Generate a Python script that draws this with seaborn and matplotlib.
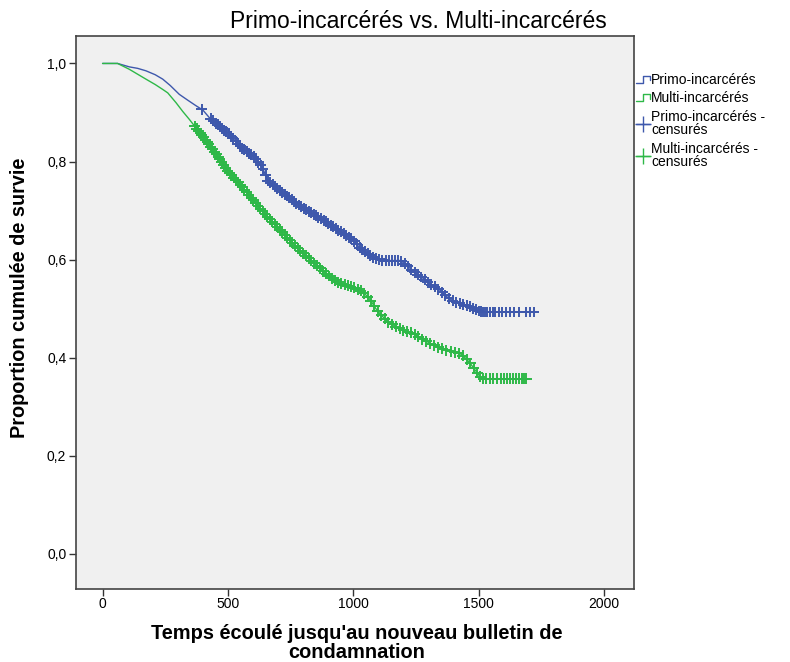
import numpy as np
import pandas as pd
import matplotlib
matplotlib.use("Agg")
import matplotlib.pyplot as plt
from matplotlib.lines import Line2D
from matplotlib.legend_handler import HandlerBase
import seaborn as sns

# survival curves (time in days, cumulative survival)
primo_t = [0, 60, 107, 140, 173, 210, 240, 270, 306, 340, 372, 400, 425, 460, 505, 552,
           598, 618, 640, 658, 690, 724, 770, 817, 870, 923, 965, 1002, 1029, 1056, 1090,
           1120, 1188, 1210, 1241, 1268, 1300, 1347, 1374, 1400, 1427, 1470, 1500, 1510, 1720]
primo_s = [1.0, 1.0, 0.993, 0.99, 0.985, 0.977, 0.968, 0.955, 0.937, 0.925, 0.914, 0.905,
           0.890, 0.875, 0.856, 0.829, 0.812, 0.802, 0.785, 0.761, 0.748, 0.734, 0.716, 0.700,
           0.684, 0.666, 0.652, 0.639, 0.622, 0.612, 0.602, 0.598, 0.598, 0.590, 0.575, 0.566,
           0.553, 0.537, 0.524, 0.515, 0.510, 0.503, 0.495, 0.493, 0.493]

multi_t = [0, 60, 107, 140, 173, 210, 240, 260, 293, 320, 346, 372, 400, 439, 470, 505, 552,
           600, 640, 684, 730, 770, 817, 850, 883, 920, 950, 990, 1029, 1050, 1069, 1090,
           1109, 1140, 1175, 1210, 1241, 1275, 1307, 1340, 1374, 1400, 1427, 1450, 1467,
           1490, 1507, 1515, 1690]
multi_s = [1.0, 1.0, 0.988, 0.978, 0.968, 0.957, 0.947, 0.94, 0.920, 0.902, 0.886, 0.869,
           0.851, 0.825, 0.803, 0.778, 0.751, 0.722, 0.697, 0.673, 0.648, 0.627, 0.605, 0.590,
           0.575, 0.560, 0.551, 0.545, 0.537, 0.528, 0.517, 0.500, 0.488, 0.472, 0.462, 0.453,
           0.449, 0.438, 0.429, 0.421, 0.415, 0.411, 0.408, 0.398, 0.388, 0.372, 0.360, 0.357,
           0.357]

# censored observation times
primo_cens = [395, 432, 441, 452, 460, 468, 477, 486, 494, 503, 512, 520, 531, 540, 549, 557,
              566, 575, 585, 594, 603, 611, 622, 631, 640, 650, 659, 668, 678, 687, 697, 706,
              715, 726, 735, 744, 755, 764, 773, 784, 793, 803, 812, 823, 832, 842, 852, 861,
              871, 882, 891, 901, 911, 921, 931, 941, 952, 962, 972, 983, 993, 1004, 1014,
              1025, 1035, 1046, 1057, 1068, 1080, 1092, 1104, 1116, 1130, 1142, 1155, 1168,
              1180, 1192, 1205, 1218, 1232, 1245, 1258, 1272, 1285, 1298, 1312, 1326, 1340,
              1355, 1368, 1382, 1396, 1410, 1424, 1438, 1452, 1466, 1478, 1490, 1500, 1508,
              1516, 1526, 1535, 1546, 1556, 1566, 1580, 1594, 1608, 1625, 1640, 1662, 1690,
              1704, 1720]
multi_cens = [368, 375, 382, 389, 396, 403, 410, 417, 424, 431, 438, 446, 453, 461, 468, 476,
              484, 492, 500, 508, 516, 524, 532, 541, 549, 558, 566, 575, 584, 593, 602, 611,
              620, 629, 638, 648, 657, 667, 676, 686, 696, 706, 716, 726, 736, 746, 757, 767,
              778, 789, 800, 811, 822, 833, 845, 856, 868, 880, 892, 904, 916, 928, 941, 953,
              966, 978, 991, 1004, 1017, 1030, 1043, 1057, 1070, 1084, 1098, 1112, 1126, 1140,
              1155, 1170, 1185, 1200, 1215, 1230, 1245, 1260, 1276, 1292, 1308, 1324, 1340,
              1356, 1372, 1388, 1404, 1420, 1436, 1452, 1466, 1480, 1494, 1506, 1518, 1530,
              1545, 1558, 1572, 1588, 1600, 1612, 1624, 1638, 1650, 1660, 1672, 1682, 1690]

groups = ["Primo-incarcérés", "Multi-incarcérés"]
colors = {"Primo-incarcérés": "#3E58AC", "Multi-incarcérés": "#2EB848"}

curves = pd.concat([
    pd.DataFrame({"t": primo_t, "s": primo_s, "g": groups[0]}),
    pd.DataFrame({"t": multi_t, "s": multi_s, "g": groups[1]}),
])
# censor marks sit on their curve
cens = pd.concat([
    pd.DataFrame({"t": primo_cens, "s": np.interp(primo_cens, primo_t, primo_s), "g": groups[0]}),
    pd.DataFrame({"t": multi_cens, "s": np.interp(multi_cens, multi_t, multi_s), "g": groups[1]}),
])

sns.set_style("white")
plt.rcParams["font.family"] = ["Liberation Sans", "DejaVu Sans"]
plt.rcParams["text.color"] = "black"
plt.rcParams["xtick.color"] = "black"
plt.rcParams["ytick.color"] = "black"

fig = plt.figure(figsize=(7.9, 6.62), dpi=100)
ax = fig.add_axes([76 / 790, 73 / 662, 558 / 790, 553 / 662])
ax.set_facecolor("#F0F0F0")

sns.lineplot(data=curves, x="t", y="s", hue="g", palette=colors, estimator=None,
             sort=False, lw=1.0, legend=False, ax=ax, zorder=2)
sns.scatterplot(data=cens, x="t", y="s", hue="g", palette=colors, marker="+", s=62,
                linewidth=1.4, legend=False, ax=ax, zorder=3)

ax.set_xlim(-106, 2120)
ax.set_ylim(-0.072, 1.056)
ax.set_xticks([0, 500, 1000, 1500, 2000])
ax.set_yticks([0, 0.2, 0.4, 0.6, 0.8, 1.0])
ax.set_yticklabels(["0,0", "0,2", "0,4", "0,6", "0,8", "1,0"])
ax.tick_params(direction="out", length=5, width=1, color="#333333", labelsize=10,
               left=True, bottom=True)
ax.tick_params(axis="x", pad=1)
ax.tick_params(axis="y", pad=2)
ax.set_xlabel("")
ax.set_ylabel("")
for sp in ax.spines.values():
    sp.set_color("#444444")
    sp.set_linewidth(1.2)

fig.text(418 / 790, 1 - 28.5 / 662, "Primo-incarcérés vs. Multi-incarcérés",
         ha="center", va="baseline", fontsize=16.5)
fig.text(20 / 790, 1 - 298 / 662, "Proportion cumulée de survie", rotation=90,
         ha="center", va="center", fontsize=14.3, fontweight="bold")
fig.text(357 / 790, 1 - 643 / 662, "Temps écoulé jusqu'au nouveau bulletin de\ncondamnation",
         ha="center", va="center", fontsize=14.4, fontweight="bold", linespacing=1.05)


class StepHandler(HandlerBase):
    def create_artists(self, legend, orig_handle, xdescent, ydescent, width, height,
                       fontsize, trans):
        x0, y0 = -xdescent, -ydescent
        xs = [x0, x0 + 0.5 * width, x0 + 0.5 * width, x0 + width, x0 + width]
        ys = [y0 + 0.1 * height, y0 + 0.1 * height, y0 + 0.85 * height,
              y0 + 0.85 * height, y0 + 0.4 * height]
        ln = Line2D(xs, ys, color=orig_handle.get_color(), lw=1.0, transform=trans)
        return [ln]


step_primo = Line2D([], [], color=colors[groups[0]])
step_multi = Line2D([], [], color=colors[groups[1]])
handles = [
    step_primo,
    step_multi,
    Line2D([], [], color=colors[groups[0]], lw=1, marker="+", markersize=11),
    Line2D([], [], color=colors[groups[1]], lw=1, marker="+", markersize=11),
]
labels = ["Primo-incarcérés", "Multi-incarcérés", "Primo-incarcérés -\ncensurés",
          "Multi-incarcérés -\ncensurés"]
leg = fig.legend(handles, labels, loc="upper left", bbox_to_anchor=(636 / 790, 1 - 73 / 662),
                 frameon=False, fontsize=10, handlelength=1.0, handletextpad=0.1,
                 labelspacing=0.32, borderpad=0, borderaxespad=0,
                 handler_map={step_primo: StepHandler(), step_multi: StepHandler()})
for t in leg.get_texts():
    t.set_linespacing(0.95)

fig.savefig("out.png", dpi=100)
